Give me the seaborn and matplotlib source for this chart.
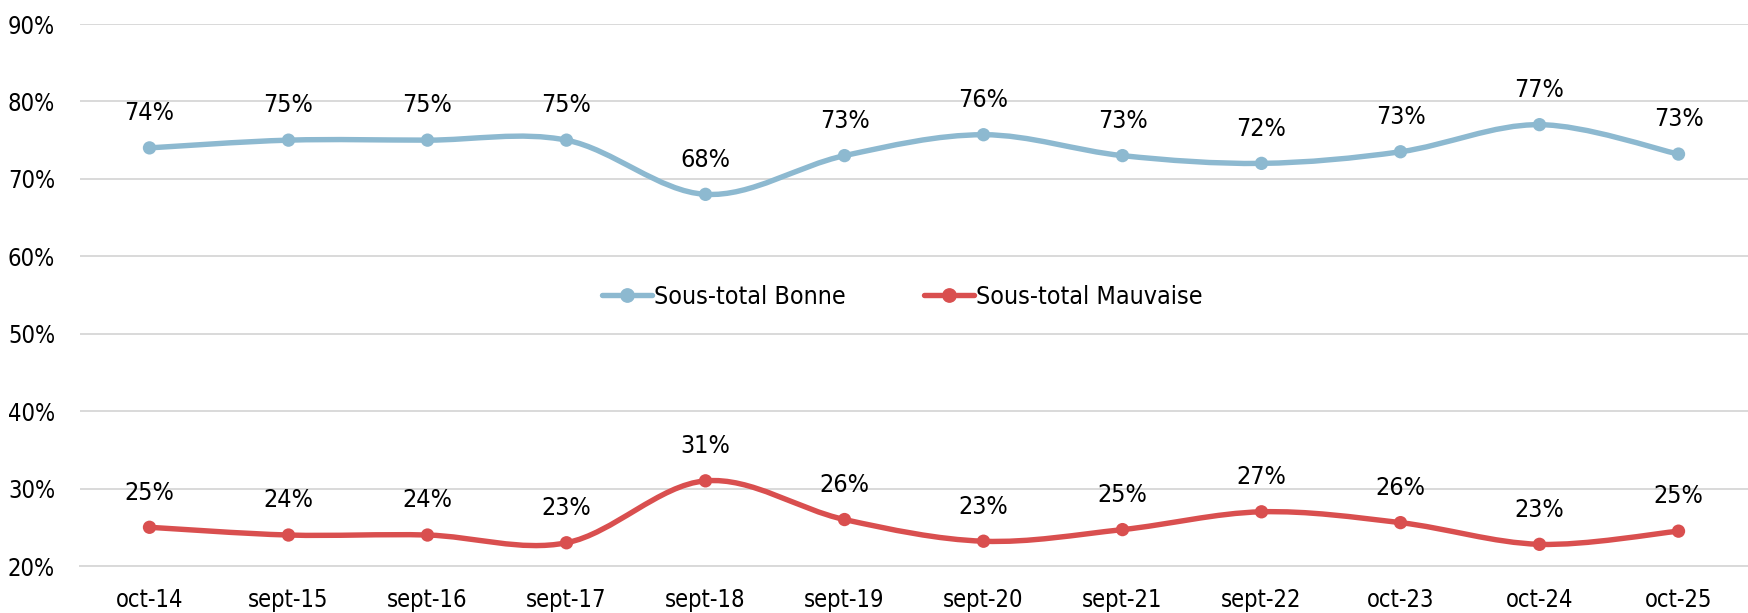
import numpy as np
import pandas as pd
import matplotlib
matplotlib.use("Agg")
import matplotlib.pyplot as plt
import seaborn as sns
from matplotlib.path import Path
from matplotlib.patches import PathPatch
from matplotlib.lines import Line2D
from matplotlib.ticker import FixedLocator

# data
categories = ["oct-14", "sept-15", "sept-16", "sept-17", "sept-18", "sept-19",
              "sept-20", "sept-21", "sept-22", "oct-23", "oct-24", "oct-25"]
bonne = [74.0, 75.0, 75.0, 75.0, 68.0, 73.0, 75.7, 73.0, 72.0, 73.5, 77.0, 73.2]
bonne_labels = ["74%", "75%", "75%", "75%", "68%", "73%", "76%", "73%", "72%", "73%", "77%", "73%"]
mauvaise = [25.0, 24.0, 24.0, 23.0, 31.0, 26.0, 23.2, 24.7, 27.0, 25.6, 22.8, 24.5]
mauvaise_labels = ["25%", "24%", "24%", "23%", "31%", "26%", "23%", "25%", "27%", "26%", "23%", "25%"]
series_names = ["Sous-total Bonne", "Sous-total Mauvaise"]
yticks = [20, 30, 40, 50, 60, 70, 80, 90]

colors = {"Sous-total Bonne": "#8DB9D0", "Sous-total Mauvaise": "#D94F4F"}

sns.set_style("white")
plt.rcParams["font.family"] = ["DejaVu Sans"]
plt.rcParams["font.stretch"] = "condensed"
FS = 18       # étiquettes de données et légende
FS_AX = 17    # axes
LW = 3.9


def smooth_path(xs, ys):
    """Courbe lissée type Excel (Catmull-Rom -> Bezier)"""
    pts = np.column_stack([xs, ys])
    n = len(pts)
    verts = [pts[0]]
    codes = [Path.MOVETO]
    for i in range(n - 1):
        p0 = pts[max(i - 1, 0)]
        p1 = pts[i]
        p2 = pts[i + 1]
        p3 = pts[min(i + 2, n - 1)]
        c1 = p1 + (p2 - p0) / 6.0
        c2 = p2 - (p3 - p1) / 6.0
        verts += [c1, c2, p2]
        codes += [Path.CURVE4] * 3
    return Path(verts, codes)


df = pd.DataFrame({
    "x": list(range(len(categories))) * 2,
    "value": bonne + mauvaise,
    "serie": [series_names[0]] * len(bonne) + [series_names[1]] * len(mauvaise),
})

fig = plt.figure(figsize=(17.48, 6.13), dpi=100)
ax = fig.add_axes([80 / 1748, 47 / 613, 1 - 80 / 1748, (566 - 24) / 613])

xs = np.arange(len(categories))
for name, vals in zip(series_names, [bonne, mauvaise]):
    patch = PathPatch(smooth_path(xs, vals), facecolor="none",
                      edgecolor=colors[name], lw=LW, capstyle="round", zorder=3)
    ax.add_patch(patch)

sns.scatterplot(data=df, x="x", y="value", hue="serie", palette=colors,
                s=92, linewidth=0, legend=False, ax=ax, zorder=4)

for vals, labels in [(bonne, bonne_labels), (mauvaise, mauvaise_labels)]:
    for i, (v, lab) in enumerate(zip(vals, labels)):
        ax.annotate(lab, (i, v), xytext=(0, 25), textcoords="offset points",
                    ha="center", va="center", fontsize=FS, color="black")

ax.set_xlim(-0.5, len(categories) - 0.5)
ax.set_ylim(20, 90)
ax.set_yticks(yticks)
ax.set_yticklabels([f"{t}%" for t in yticks], fontsize=FS_AX, color="black")
ax.set_xticks(xs)
ax.set_xticklabels(categories, fontsize=FS_AX, color="black")
ax.xaxis.set_minor_locator(FixedLocator(np.arange(-0.5, len(categories), 1.0)))
ax.tick_params(axis="x", which="major", length=0, pad=16)
ax.tick_params(axis="x", which="minor", length=9, width=1.3, color="#D9D9D9")
ax.tick_params(axis="y", length=0, pad=18)
ax.set_xlabel("")
ax.set_ylabel("")

ax.grid(axis="y", color="#D9D9D9", lw=1.4)
ax.set_axisbelow(True)
for side in ["top", "right", "left"]:
    ax.spines[side].set_visible(False)
ax.spines["bottom"].set_color("#D9D9D9")
ax.spines["bottom"].set_linewidth(1.4)

handles = [Line2D([0], [0], color=colors[n], lw=LW, marker="o", markersize=9.6,
                  solid_capstyle="round") for n in series_names]
ax.legend(handles, series_names, loc="center", bbox_to_anchor=(0.493, 0.496),
          ncol=2, frameon=False, fontsize=FS, handlelength=2.0, handletextpad=0.1,
          columnspacing=3.1, labelcolor="black")

fig.savefig("out.png", dpi=100)
